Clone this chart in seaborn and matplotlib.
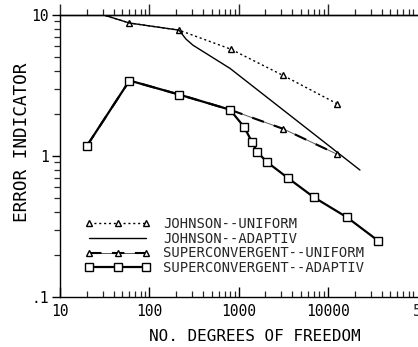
import pandas as pd
import seaborn as sns
import matplotlib.pyplot as plt
from matplotlib.ticker import LogLocator, NullFormatter, FixedLocator, FixedFormatter
from matplotlib.legend_handler import HandlerTuple

# values
johnson_uniform_dof = [20, 60, 215, 820, 3140, 12650]
johnson_uniform_err = [10.9, 8.77, 7.81, 5.72, 3.73, 2.35]

johnson_adaptive_dof = [20, 60, 215, 258, 308, 802, 22860]
johnson_adaptive_err = [10.9, 8.77, 7.81, 6.74, 6.11, 4.18, 0.795]

super_uniform_dof = [20, 60, 215, 800, 3140, 12650]
super_uniform_err = [1.18, 3.43, 2.73, 2.13, 1.56, 1.03]

super_adaptive_dof = [20, 60, 215, 800, 1150, 1410, 1610, 2080, 3580, 6990, 16400, 36400]
super_adaptive_err = [1.18, 3.43, 2.73, 2.13, 1.61, 1.26, 1.07, 0.906, 0.697, 0.509, 0.367, 0.251]

x_ticks = [10, 100, 1000, 10000]
x_tick_labels = ['10', '100', '1000', '10000']
y_ticks = [0.1, 1, 10]
y_tick_labels = ['.1', '1', '10']

sns.set_theme(style="white")
plt.rcParams['font.family'] = ['DejaVu Sans Mono', 'DejaVu Sans']
plt.rcParams['axes.linewidth'] = 1.0

fig = plt.figure(figsize=(4.18, 3.47), dpi=100)
ax = fig.add_axes([60 / 418, 50 / 347, 420 / 418, 282 / 347])
ax.set_xscale('log')
ax.set_yscale('log')

ju = pd.DataFrame({'dof': johnson_uniform_dof, 'err': johnson_uniform_err})
ja = pd.DataFrame({'dof': johnson_adaptive_dof, 'err': johnson_adaptive_err})
su = pd.DataFrame({'dof': super_uniform_dof, 'err': super_uniform_err})
sa = pd.DataFrame({'dof': super_adaptive_dof, 'err': super_adaptive_err})

common = dict(x='dof', y='err', ax=ax, sort=False, estimator=None, color='black')
tri = dict(marker='^', markersize=5, markerfacecolor='white',
           markeredgecolor='black', markeredgewidth=1.0)

sns.lineplot(data=ju, **common, lw=1.0, linestyle=(0, (1.5, 2.0)), **tri,
             label='JOHNSON--UNIFORM')
sns.lineplot(data=ja, **common, lw=1.0, label='JOHNSON--ADAPTIV')
# superconvergent uniform: thin line with thicker dashes on top
sns.lineplot(data=su, x='dof', y='err', ax=ax, sort=False, estimator=None,
             color='0.35', lw=0.7, label='_su_thin')
sns.lineplot(data=su, **common, lw=1.5, linestyle=(0, (6, 5)), **tri,
             label='SUPERCONVERGENT--UNIFORM')
sns.lineplot(data=sa, **common, lw=1.6, marker='s', markersize=5.5,
             markerfacecolor='white', markeredgecolor='black', markeredgewidth=1.0,
             label='SUPERCONVERGENT--ADAPTIV')

ax.set_xlim(10, 5.05e5)
ax.set_ylim(0.1, 10)

ax.xaxis.set_major_locator(FixedLocator(x_ticks))
ax.xaxis.set_major_formatter(FixedFormatter(x_tick_labels))
ax.xaxis.set_minor_locator(LogLocator(base=10, subs=range(2, 10), numticks=20))
ax.xaxis.set_minor_formatter(NullFormatter())
ax.yaxis.set_major_locator(FixedLocator(y_ticks))
ax.yaxis.set_major_formatter(FixedFormatter(y_tick_labels))
ax.yaxis.set_minor_locator(LogLocator(base=10, subs=range(2, 10), numticks=20))
ax.yaxis.set_minor_formatter(NullFormatter())

ax.tick_params(axis='x', which='major', direction='in', length=7, width=1.0,
               bottom=True, top=False, labelsize=10.5, pad=5, colors='black')
ax.tick_params(axis='x', which='minor', direction='in', length=4, width=0.9,
               bottom=True, top=False)
ax.tick_params(axis='y', which='major', direction='out', length=6, width=1.0,
               left=True, labelsize=10.5, pad=2, colors='black')
ax.tick_params(axis='y', which='minor', direction='out', length=4, width=0.9, left=True)

top = ax.secondary_xaxis('top')
top.xaxis.set_major_locator(FixedLocator(x_ticks))
top.xaxis.set_minor_locator(LogLocator(base=10, subs=range(2, 10), numticks=20))
top.xaxis.set_major_formatter(NullFormatter())
top.xaxis.set_minor_formatter(NullFormatter())
top.tick_params(which='major', direction='out', length=8, width=1.0)
top.tick_params(which='minor', direction='out', length=4, width=0.9)

ax.spines['right'].set_visible(False)
for s in ['left', 'bottom', 'top']:
    ax.spines[s].set_color('black')

ax.set_xlabel('NO. DEGREES OF FREEDOM', fontsize=11.5, color='black')
ax.xaxis.set_label_coords((255 - 60) / 420, -0.115)
ax.set_ylabel('ERROR INDICATOR', fontsize=12.8, color='black')
ax.yaxis.set_label_coords(-0.07, 0.55)

# label cut off at the right edge of the original figure
ax.text(8.98e4, -0.025, '50000', transform=ax.get_xaxis_transform(),
        ha='left', va='top', fontsize=10.5, clip_on=False)

lines = ax.get_lines()
handles = [lines[0], lines[1], (lines[2], lines[3]), lines[4]]
labels = ['JOHNSON--UNIFORM', 'JOHNSON--ADAPTIV',
          'SUPERCONVERGENT--UNIFORM', 'SUPERCONVERGENT--ADAPTIV']
leg = ax.legend(handles, labels, loc='upper left',
                bbox_to_anchor=((85 - 60) / 420, (297 - 217) / 282),
                frameon=False, fontsize=10, handlelength=4.7, handletextpad=0.9,
                labelspacing=0.05, borderpad=0, borderaxespad=0, numpoints=3,
                handler_map={tuple: HandlerTuple(ndivide=1)})

fig.savefig('out.png', dpi=100)
